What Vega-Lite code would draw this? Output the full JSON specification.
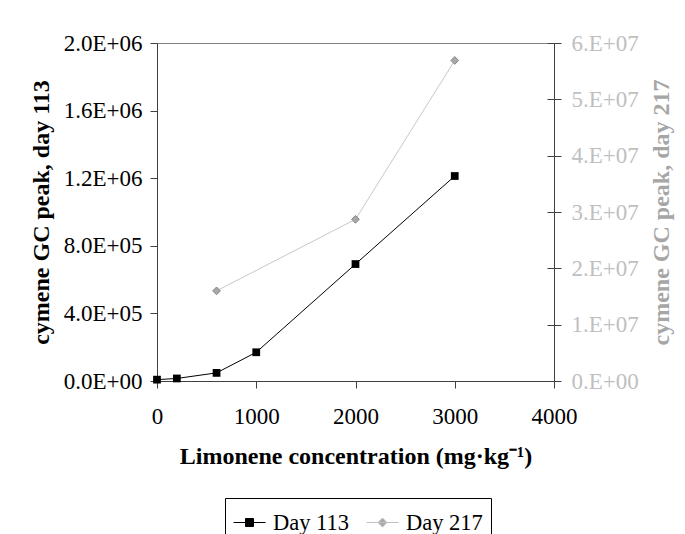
{
  "$schema": "https://vega.github.io/schema/vega-lite/v6.json",
  "autosize": "none",
  "width": 397,
  "height": 338,
  "padding": {"left": 157, "top": 43, "right": 131, "bottom": 153},
  "background": "white",
  "config": {
    "view": {"stroke": "#808080", "strokeWidth": 1},
    "font": "Liberation Serif",
    "axis": {
      "labelFont": "Liberation Serif",
      "titleFont": "Liberation Serif",
      "labelFontSize": 23,
      "titleFontSize": 24,
      "titleFontWeight": "bold",
      "grid": false,
      "domainColor": "#404040",
      "tickColor": "#404040",
      "tickSize": 7,
      "labelPadding": 8,
      "labelColor": "black",
      "titleColor": "black"
    }
  },
  "data": {
    "values": [
      {"series": "Day 113", "conc": 0, "value": 8000},
      {"series": "Day 113", "conc": 200, "value": 15000},
      {"series": "Day 113", "conc": 600, "value": 48000},
      {"series": "Day 113", "conc": 1000, "value": 170000},
      {"series": "Day 113", "conc": 2000, "value": 692000},
      {"series": "Day 113", "conc": 3000, "value": 1213000},
      {"series": "Day 217", "conc": 600, "value": 16000000},
      {"series": "Day 217", "conc": 2000, "value": 28700000},
      {"series": "Day 217", "conc": 3000, "value": 56900000}
    ]
  },
  "encoding": {
    "x": {
      "field": "conc",
      "type": "quantitative",
      "scale": {"domain": [0, 4000], "nice": false},
      "axis": {
        "values": [0, 1000, 2000, 3000, 4000],
        "format": "d",
        "title": "Limonene concentration (mg·kg⁻¹)",
        "labelPadding": 17,
        "titlePadding": 16,
        "labelFlush": false
      }
    }
  },
  "layer": [
    {
      "transform": [{"filter": "datum.series === 'Day 113'"}],
      "encoding": {
        "y": {
          "field": "value",
          "type": "quantitative",
          "scale": {"domain": [0, 2000000], "nice": false},
          "axis": {
            "orient": "left",
            "values": [0, 400000, 800000, 1200000, 1600000, 2000000],
            "labelExpr": "replace(format(datum.value, '.1e'), 'e+', 'E+0')",
            "title": "cymene GC peak, day 113",
            "titlePadding": 10,
            "labelFlush": false
          }
        }
      },
      "layer": [
        {"mark": {"type": "line", "color": "black", "strokeWidth": 1}},
        {"mark": {"type": "point", "shape": "square", "filled": true, "color": "black", "opacity": 1, "size": 60}}
      ]
    },
    {
      "transform": [{"filter": "datum.series === 'Day 217'"}],
      "encoding": {
        "y": {
          "field": "value",
          "type": "quantitative",
          "scale": {"domain": [0, 60000000], "nice": false},
          "axis": {
            "orient": "right",
            "values": [0, 10000000, 20000000, 30000000, 40000000, 50000000, 60000000],
            "labelExpr": "replace(format(datum.value, '.0e'), 'e+', '.E+0')",
            "title": "cymene GC peak, day 217",
            "titleAngle": 270,
            "titleBaseline": "top",
            "titleColor": "#a6a6a6",
            "labelColor": "#c0c0c0",
            "labelPadding": 10,
            "titlePadding": 11,
            "labelFlush": false
          }
        }
      },
      "layer": [
        {"mark": {"type": "line", "color": "#c8c8c8", "strokeWidth": 1}},
        {"mark": {"type": "point", "shape": "diamond", "filled": true, "fill": "#a8a8a8", "stroke": "#858585", "strokeWidth": 1, "opacity": 1, "size": 60}}
      ]
    },
    {
      "mark": {"type": "point", "opacity": 0, "size": 1024},
      "encoding": {
        "y": {
          "field": "value",
          "type": "quantitative",
          "scale": {"domain": [0, 60000000], "nice": false},
          "axis": {
            "orient": "right",
            "offset": -7,
            "values": [0, 10000000, 20000000, 30000000, 40000000, 50000000, 60000000],
            "labels": false,
            "domain": false,
            "title": null,
            "tickSize": 7
          }
        },
        "shape": {
          "field": "series",
          "type": "nominal",
          "scale": {
            "domain": ["Day 113", "Day 217"],
            "range": ["M-1,0H1M-0.25,-0.25H0.25V0.25H-0.25Z", "M-1,0H1M0,-0.28L0.28,0L0,0.28L-0.28,0Z"]
          },
          "legend": {
            "title": null,
            "orient": "none",
            "direction": "horizontal",
            "legendX": 68,
            "legendY": 455,
            "strokeColor": "black",
            "padding": 8,
            "columnPadding": 14,
            "labelOffset": 7,
            "labelFont": "Liberation Serif",
            "labelFontSize": 22.5,
            "labelColor": "black",
            "symbolOpacity": 1,
            "symbolSize": 1024,
            "symbolStrokeWidth": 1
          }
        },
        "fill": {
          "field": "series",
          "type": "nominal",
          "scale": {"domain": ["Day 113", "Day 217"], "range": ["black", "#a8a8a8"]},
          "legend": {"title": null}
        },
        "stroke": {
          "field": "series",
          "type": "nominal",
          "scale": {"domain": ["Day 113", "Day 217"], "range": ["black", "#c0c0c0"]},
          "legend": {"title": null}
        }
      }
    }
  ],
  "resolve": {"scale": {"y": "independent"}}
}
